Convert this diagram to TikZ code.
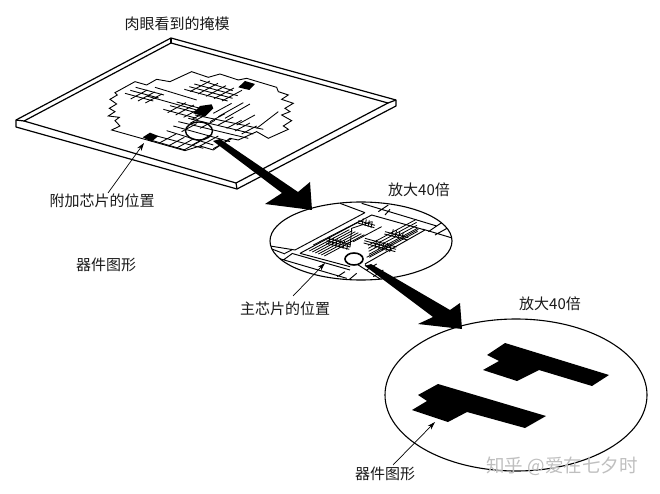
\documentclass[tikz,border=0pt]{standalone}
\usepackage{fontspec}
\setmainfont{Liberation Serif}
\newfontfamily\cjk{Noto Sans CJK SC}
\usetikzlibrary{arrows.meta}
\tikzset{
 lbl/.style={font=\fontsize{15pt}{16pt}\selectfont\cjk,inner sep=0pt,text=black!90},
 plate/.style={line width=1.2pt,line join=round},
 thin grid/.style={line width=.85pt},
 pointer/.style={line width=.7pt,-{Stealth[length=8pt,width=5pt]}},
 big/.style={fill=black,draw=none},
 oval/.style={draw,line width=1.1pt},
 zone1/.style={x=.3333pt,y=-.3333pt},
}
\newcommand{\lines}[8]{%
 \foreach \i in {1,...,#7}{\draw[thin grid,#8] ({#1+(\i-1)*#5},{#2+(\i-1)*#6}) -- ++(#3,#4);}}
\begin{document}
\begin{tikzpicture}[x=1pt,y=-1pt]
\useasboundingbox (0,0) rectangle (660,494);
\fill[white] (0,0) rectangle (660,494);
% plate
\draw[plate] (16,120) -- (171,38) -- (396,100) -- (396,106) -- (237,189) -- (16,127) -- cycle;
\draw[plate] (171,38) -- (171,43);
\draw[plate] (171,43) -- (24,121) -- (236,183) -- (388,103) -- cycle;
\draw[plate] (16,120) -- (24,121);
\draw[plate] (396,100) -- (388,103);
\draw[plate] (237,189) -- (236,183);
% mask, in zoom units
\begin{scope}[zone1]
\draw[line width=.9pt,line join=miter]
 (335,390)--(360,378)--(345,362)--(358,352)--(325,348)--(345,335)--(328,325)--(350,312)--(330,298)--(352,285)--(345,278)--(405,245)--(440,255)--(470,238)--(510,245)--(575,215)--(625,232)--(660,222)--(715,240)--(740,235)--(830,262)--(835,275)--(865,285)--(845,298)--(880,310)--(855,325)--(870,335)--(845,345)--(875,362)--(850,378)--(865,388)--(805,415)--(770,395)--(715,420)--(690,415)--(640,450)--(600,438)--(555,452)--cycle;
% top-left patch
\lines{375}{280}{85}{23}{16}{-9}{3}{}
\lines{392}{297}{50}{-27}{22}{6}{3}{}
\draw[thin grid] (440,288) -- (590,330);
\draw[thin grid] (465,262) -- (590,300);
% top centre patch
\lines{553}{268}{130}{35}{15}{-8}{3}{}
\draw[thin grid] (600,240) -- (698,272);
\lines{570}{275}{60}{-32}{24}{7}{5}{}
% middle patch
\lines{490}{328}{100}{27}{20}{-11}{3}{}
\lines{503}{338}{55}{-30}{24}{7}{4}{}
% long lines to the right
\draw[thin grid] (640,340)--(695,310) (655,350)--(730,308) (675,355)--(750,312)
 (710,375)--(765,345) (770,385)--(835,335);
% lower grid
\draw[thin grid] (585,345)--(790,388) (565,355)--(760,402) (535,365)--(745,415)
 (520,378)--(690,425) (500,392)--(640,435) (470,408)--(610,445) (458,422)--(555,450);
\foreach \a/\b in {480/428,505/438,530/444,552/450}{\draw[thin grid] (\a,\b) -- ++(48,-26);}
\foreach \a/\b in {575/436,600/438,640/446}{\draw[thin grid] (\a,\b) -- ++(55,-30);}
\foreach \a/\b in {545/395,570/370,600/385,630/365,655/375,680/385,705/393,725/402}{\draw[thin grid] (\a,\b) -- ++(45,-24);}
% black blobs
\fill (715,262)--(735,243)--(765,252)--(748,270)--cycle;
\fill (580,340)--(600,318)--(635,313)--(640,325)--(615,350)--cycle;
\fill (428,412)--(450,398)--(475,408)--(455,425)--cycle;
\end{scope}
\draw[line width=1.4pt] (199,131) ellipse [x radius=13.5,y radius=9];
% first big arrow
\fill[big] (213,141)--(220,139)--(298,192)--(310,182)--(312,210)--(265,204)--(282,193)--cycle;
% mid ellipse
\begin{scope}
\clip (361,241) ellipse [x radius=91,y radius=39];
\begin{scope}[shift={(250,170)},zone1]
\draw[line width=.95pt]
 (135,240)--(345,128)
 (150,250)--(365,135)--(525,180)--(345,282)
 (150,250)--(300,290)
 (60,228)--(135,240)
 (270,100)--(345,128)
 (335,100)--(560,168)
 (385,125)--(415,105)
 (405,135)--(420,118)
 (520,178)--(610,205)
 (535,185)--(575,158)
 (555,195)--(600,170)
 (60,235)--(105,252)
 (105,250)--(125,240)
 (75,262)--(290,325)
 (100,270)--(125,252)
 (125,250)--(300,300)
 (345,285)--(440,345)
 (262,320)--(285,305)
 (290,335)--(320,310)
 (350,300)--(380,282)
 (370,320)--(400,300)
 (325,285)--(395,330);
% chip hatching
\lines{178}{243}{120}{-64}{9}{3}{6}{line width=.8pt}
\lines{190}{225}{140}{-72}{0}{0}{1}{line width=.8pt}
\lines{350}{262}{155}{-84}{7}{-1}{1}{line width=.8pt}
\lines{358}{262}{145}{-78}{-1}{-9}{5}{line width=.8pt}
\draw[thin grid] (300,232)--(305,175)--(365,155) (310,215)--(395,170);
% cross bars
\lines{232}{205}{70}{19}{-2}{7}{3}{}
\lines{325}{152}{50}{14}{-2}{7}{2}{}
\lines{345}{205}{95}{26}{-2}{7}{3}{}
\lines{405}{185}{70}{18}{-2}{7}{2}{}
\lines{240}{200}{-5}{24}{11}{3}{6}{}
\lines{340}{145}{-4}{20}{9}{3}{4}{}
\lines{380}{210}{-5}{24}{11}{3}{5}{}
\lines{430}{178}{-5}{20}{10}{3}{4}{}
\end{scope}
\end{scope}
\draw[oval] (361,241) ellipse [x radius=91,y radius=39];
\draw[line width=1.6pt,fill=white] (354,259) ellipse [x radius=9,y radius=6];
% second big arrow
\fill[big] (365,266)--(371,264)--(450,310)--(460,303)--(462,329)--(418,324)--(433,317)--cycle;
% big ellipse
\draw[oval] (516,395) ellipse [x radius=131,y radius=76];
\fill[big] (505,343)--(609,375)--(592,386)--(539,370)--(517,381)--(483,370)--(499,361)--(487,355)--cycle;
\fill[big] (438,384)--(546,416)--(525,428)--(467,412)--(448,422)--(412,410)--(427,401)--(418,395)--cycle;
% labels
\node[lbl] (title) at (177,24) {肉眼看到的掩模};
\node[lbl] (extra) at (102,201) {附加芯片的位置};
\node[lbl] (dev1) at (106,265) {器件图形};
\node[lbl] (zoomA) at (419,190) {放大40倍};
\node[lbl] (zoomB) at (550,304) {放大40倍};
\node[lbl] (mainchip) at (285,309) {主芯片的位置};
\node[lbl] (dev2) at (385,474) {器件图形};
\node[font=\fontsize{18.5pt}{20pt}\selectfont\cjk,text=black!25,inner sep=0pt] (wm) at (562,466) {知乎 @爱在七夕时};
% pointers
\coordinate (tipA) at (144,143);
\coordinate (tailA) at (108,193);
\coordinate (tipB) at (325,263);
\coordinate (tailB) at (293,296);
\coordinate (tipC) at (435,422);
\coordinate (tailC) at (393,465);
\draw[pointer] (tailA) -- (tipA);
\draw[pointer] (tailB) -- (tipB);
\draw[pointer] (tailC) -- (tipC);
\end{tikzpicture}
\end{document}
